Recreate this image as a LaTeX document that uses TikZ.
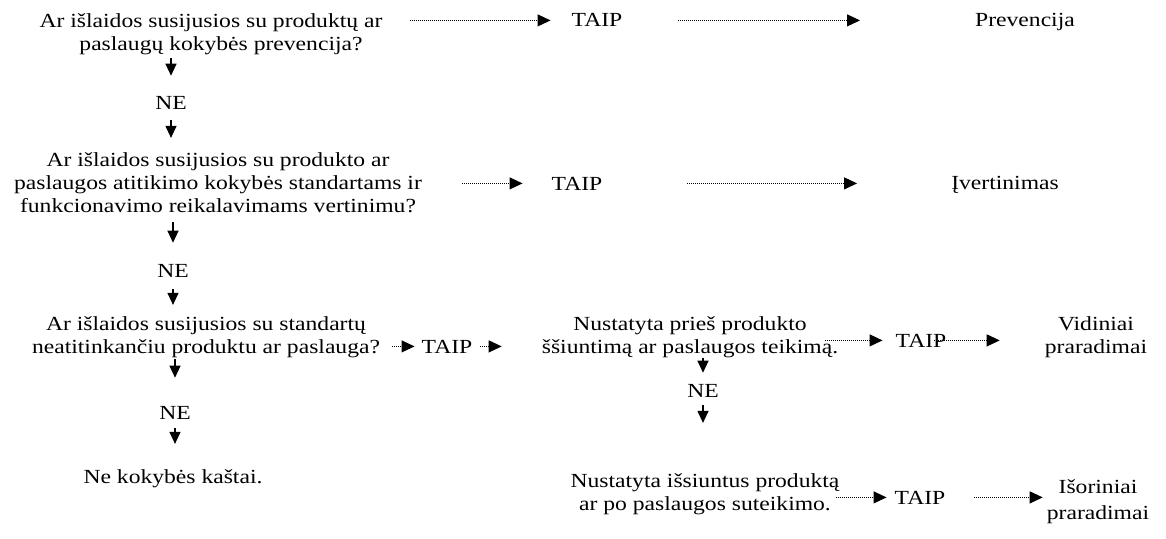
\documentclass[tikz,border=0pt]{standalone}
\usepackage{fontspec}
\setmainfont[FakeStretch=1.18]{Liberation Serif}
\usetikzlibrary{arrows.meta}
\tikzset{
  lbl/.style={inner sep=0pt, anchor=base, align=center,
    font=\fontsize{20pt}{23pt}\selectfont},
  dotarr/.style={line width=1pt, dash pattern=on 0.9pt off 1.1pt,
    -{Triangle[length=13pt,width=12pt]}},
  downarr/.style={line width=1.2pt, -{Triangle[length=12pt,width=11pt]}},
}
\begin{document}
\begin{tikzpicture}[x=1pt,y=-1pt]
\useasboundingbox (0,0) rectangle (1166,538);

% labels; multi-line ones are placed by the baseline of their last line
\node[lbl] (q1) at (211,50) {Ar išlaidos susijusios su produktų ar\\\hspace*{20pt}paslaugų kokybės prevencija?};
\node[lbl] (t1) at (597,27) {TAIP};
\node[lbl] (p1) at (1025,27) {Prevencija};
\node[lbl] (ne1) at (171,109) {NE};

\node[lbl] (q2) at (218,212) {Ar išlaidos susijusios su produkto ar\\paslaugos atitikimo kokybės standartams ir\\funkcionavimo reikalavimams vertinimu?};
\node[lbl] (t2) at (577,190) {TAIP};
\node[lbl] (p2) at (1005,189) {Įvertinimas};
\node[lbl] (ne2) at (173,277) {NE};

\node[lbl] (q3) at (206,353) {Ar išlaidos susijusios su standartų\\neatitinkančiu produktu ar paslauga?};
\node[lbl] (t3) at (447,353) {TAIP};
\node[lbl] (q4) at (690,353) {Nustatyta prieš produkto\\ššiuntimą ar paslaugos teikimą.};
\node[lbl] (t4) at (921,347) {TAIP};
\node[lbl] (p4) at (1096,353) {Vidiniai\\praradimai};
\node[lbl] (ne3) at (175,419) {NE};
\node[lbl] (p3) at (173,483) {Ne kokybės kaštai.};
\node[lbl] (ne4) at (703,397) {NE};
\node[lbl] (q5) at (705,510) {Nustatyta išsiuntus produktą\\ar po paslaugos suteikimo.};
\node[lbl] (t5) at (920,504) {TAIP};
\node[lbl, font=\fontsize{20pt}{26pt}\selectfont] (p5) at (1098,519) {Išoriniai\\praradimai};

% dotted TAIP connectors
\draw[dotarr] ([xshift=27pt]q1.east |- t1.west) -- ([xshift=-21pt]t1.west);
\draw[dotarr] ([xshift=56pt]t1.east) -- ([xshift=-115pt]t1.east -| p1.west);
\draw[dotarr] ([xshift=40pt]q2.east |- t2.west) -- ([xshift=-29pt]t2.west);
\draw[dotarr] ([xshift=85pt]t2.east) -- ([xshift=-94pt]t2.east -| p2.west);
\draw[dotarr] ([xshift=12pt]q3.east |- t3.west) -- ([xshift=-7pt]t3.west);
\draw[dotarr] ([xshift=8pt]t3.east) -- ([xshift=-40pt]t3.east -| q4.west);
\draw[dotarr] ([xshift=-13pt]q4.east |- t4.west) -- ([xshift=-13pt]t4.west);
\draw[dotarr] ([xshift=-12pt]t4.east) -- ([xshift=-45pt]t4.east -| p4.west);
\draw[dotarr] ([xshift=-4pt]q5.east |- t5.west) -- ([xshift=-8pt]t5.west);
\draw[dotarr] ([xshift=29pt]t5.east) -- ([xshift=-4pt]t5.east -| p5.west);

% solid NE connectors
\draw[downarr, shorten <=3pt, shorten >=20pt] (ne1 |- q1.south) -- (ne1.north);
\draw[downarr, shorten <=11pt, shorten >=14pt] (ne1.south) -- (ne1 |- q2.north);
\draw[downarr, shorten <=10pt, shorten >=21pt] (ne2 |- q2.south) -- (ne2.north);
\draw[downarr, shorten <=12pt, shorten >=11pt] (ne2.south) -- (ne2 |- q3.north);
\draw[downarr, shorten <=1pt, shorten >=28pt] (ne3 |- q3.south) -- (ne3.north);
\draw[downarr, shorten <=9pt, shorten >=25pt] (ne3.south) -- (ne3 |- p3.north);
\draw[downarr, shorten <=0pt, shorten >=11pt] (ne4 |- q4.south) -- (ne4.north);
\draw[downarr, shorten <=8pt, shorten >=50pt] (ne4.south) -- (ne4 |- q5.north);
\end{tikzpicture}
\end{document}
